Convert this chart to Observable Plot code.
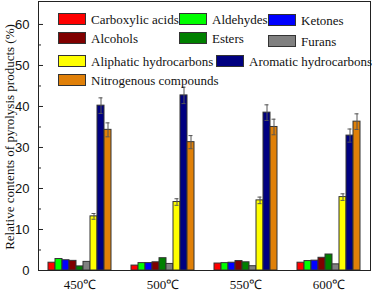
<!DOCTYPE html>
<html><head><meta charset="utf-8">
<script src="https://cdn.jsdelivr.net/npm/d3@7"></script>
<script src="https://cdn.jsdelivr.net/npm/@observablehq/plot@0.6"></script>
<style>
body{margin:0;background:#fff}
#wrap{position:relative;width:372px;height:293px;overflow:hidden}
.lg{position:absolute;display:flex;align-items:center;font-family:"Liberation Serif","Times New Roman",serif;font-size:13px;color:#111;white-space:nowrap;line-height:1}
.sw{width:26px;height:10px;border:1px solid #333;margin-right:5px;flex:none}
</style></head><body><div id="wrap"></div>
<script>
const temps = ["450℃", "500℃", "550℃", "600℃"];
const categories = ["Carboxylic acids", "Aldehydes", "Ketones", "Alcohols", "Esters", "Furans",
  "Aliphatic hydrocarbons", "Aromatic hydrocarbons", "Nitrogenous compounds"];
const colors = ["#ff0000", "#00ff00", "#0000ff", "#800000", "#008000", "#808080", "#ffff00", "#000080", "#e08008"];

const carboxylic = [1.9, 1.2, 1.7, 1.9];
const aldehydes = [2.8, 1.8, 1.8, 2.3];
const ketones = [2.5, 1.8, 1.9, 2.4];
const alcohols = [2.35, 2.0, 2.3, 3.1];
const esters = [1.0, 3.0, 2.0, 3.9];
const furans = [2.1, 1.6, 1.05, 1.5];
const aliphatic = [13.2, 16.7, 17.1, 17.9];
const aromatic = [40.2, 42.7, 38.5, 32.9];
const nitrogenous = [34.3, 31.3, 35.0, 36.3];

const aliphaticErr = [0.7, 0.8, 0.8, 0.8];
const aromaticErr = [1.9, 2.0, 1.9, 1.6];
const nitrogenousErr = [1.7, 1.6, 1.9, 1.9];

const yTicks = [0, 10, 20, 30, 40, 50, 60];
const yMinorTicks = [5, 15, 25, 35, 45, 55];
const yLabel = "Relative contents of pyrolysis products (%)";

const seriesValues = [carboxylic, aldehydes, ketones, alcohols, esters, furans, aliphatic, aromatic, nitrogenous];
const seriesErr = [null, null, null, null, null, null, aliphaticErr, aromaticErr, nitrogenousErr];

const data = [];
categories.forEach((c, i) => temps.forEach((t, j) => {
  data.push({temp: t, cat: c, v: seriesValues[i][j], e: seriesErr[i] ? seriesErr[i][j] : null});
}));
const errData = data.filter(d => d.e != null);

// legend layout (left, centre-y) in pixels
const legendLayout = [[58, 19], [179, 19], [268, 20], [58, 38], [179, 38], [268, 41], [58, 61], [216, 61], [58, 80]];

const serif = "Liberation Serif, Times New Roman, serif";
const sans = "Liberation Sans, Arial, sans-serif";

const plot = Plot.plot({
  width: 372, height: 293,
  marginLeft: 37, marginRight: 1, marginTop: 1, marginBottom: 23,
  style: {background: "transparent", fontFamily: sans, fontSize: "13px", color: "#111"},
  fx: {domain: temps, paddingInner: 0, paddingOuter: 0, label: null, axis: null},
  x: {type: "band", domain: categories, paddingInner: 0, paddingOuter: 1.15, axis: null},
  y: {domain: [0, 65.6], label: null},
  color: {domain: categories, range: colors},
  marks: [
    Plot.barY(data, {fx: "temp", x: "cat", y: "v", fill: "cat", stroke: "#333", strokeWidth: 1, insetLeft: 0, insetRight: 0}),
    Plot.ruleX(errData, {fx: "temp", x: "cat", y1: d => d.v - d.e, y2: d => d.v + d.e, stroke: "#555", strokeWidth: 1}),
    Plot.tickY(errData, {fx: "temp", x: "cat", y: d => d.v + d.e, stroke: "#555", insetLeft: 1.5, insetRight: 1.5}),
    Plot.tickY(errData, {fx: "temp", x: "cat", y: d => d.v - d.e, stroke: "#555", insetLeft: 1.5, insetRight: 1.5}),
    Plot.axisY(yTicks, {tickSize: -5, tickPadding: 14, label: null, fontFamily: sans, fontSize: 13, stroke: "#222"}),
    Plot.axisY(yMinorTicks, {tickSize: -3, tickFormat: () => "", label: null, stroke: "#222"}),
    Plot.axisFx({anchor: "bottom", tickSize: 0, tickPadding: 9, label: null, fontFamily: serif, fontSize: 13}),
    Plot.text([{temp: temps[0], label: yLabel}], {fx: "temp", text: "label", frameAnchor: "left", textAnchor: "middle", rotate: -90, dx: -29, dy: 1, fontFamily: serif, fontSize: 13, fill: "#111"}),
    Plot.frame({facet: "super", stroke: "#222"})
  ]
});
const wrap = document.getElementById("wrap");
wrap.appendChild(plot);

categories.forEach((c, i) => {
  const [lx, ly] = legendLayout[i];
  const div = document.createElement("div");
  div.className = "lg";
  div.style.left = lx + "px";
  div.style.top = (ly - 6) + "px";
  div.style.height = "12px";
  div.innerHTML = `<span class="sw" style="background:${colors[i]}"></span><span>${c}</span>`;
  wrap.appendChild(div);
});
</script></body></html>
